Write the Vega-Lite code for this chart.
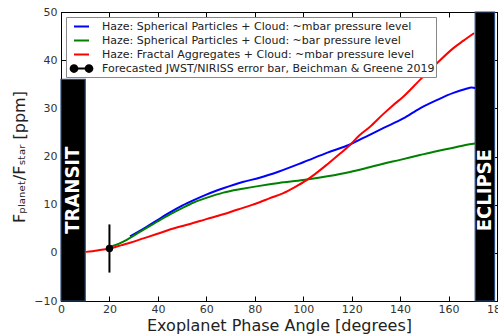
{
  "$schema": "https://vega.github.io/schema/vega-lite/v6.json",
  "width": 436,
  "height": 289,
  "autosize": "none",
  "padding": {"left": 61, "top": 12, "right": 1, "bottom": 34},
  "background": "white",
  "config": {
    "view": {"stroke": "black", "strokeWidth": 1},
    "axis": {
      "domainColor": "black",
      "tickColor": "black",
      "tickSize": -5,
      "labelFont": "DejaVu Sans",
      "labelFontSize": 11,
      "labelColor": "#333333",
      "grid": false,
      "labelFlush": false,
      "titleFont": "DejaVu Sans",
      "titleFontWeight": "normal",
      "titleFontSize": 16,
      "titleColor": "#222222"
    }
  },
  "datasets": {
    "bars": [
      {"name": "TRANSIT", "x1": 0, "x2": 10, "y1": -10, "y2": 36, "tx": 5, "ty": 13},
      {"name": "ECLIPSE", "x1": 171, "x2": 179, "y1": -10, "y2": 50, "tx": 175, "ty": 13}
    ],
    "lines": [
      {"series": "Haze: Spherical Particles + Cloud: ~mbar pressure level", "x": 28.5, "y": 3.4},
      {"series": "Haze: Spherical Particles + Cloud: ~mbar pressure level", "x": 32, "y": 4.4},
      {"series": "Haze: Spherical Particles + Cloud: ~mbar pressure level", "x": 35, "y": 5.3},
      {"series": "Haze: Spherical Particles + Cloud: ~mbar pressure level", "x": 39.5, "y": 6.7},
      {"series": "Haze: Spherical Particles + Cloud: ~mbar pressure level", "x": 45, "y": 8.4},
      {"series": "Haze: Spherical Particles + Cloud: ~mbar pressure level", "x": 50, "y": 9.8},
      {"series": "Haze: Spherical Particles + Cloud: ~mbar pressure level", "x": 55, "y": 11.0},
      {"series": "Haze: Spherical Particles + Cloud: ~mbar pressure level", "x": 60, "y": 12.1},
      {"series": "Haze: Spherical Particles + Cloud: ~mbar pressure level", "x": 67, "y": 13.4},
      {"series": "Haze: Spherical Particles + Cloud: ~mbar pressure level", "x": 75, "y": 14.7},
      {"series": "Haze: Spherical Particles + Cloud: ~mbar pressure level", "x": 82, "y": 15.6},
      {"series": "Haze: Spherical Particles + Cloud: ~mbar pressure level", "x": 90, "y": 16.9},
      {"series": "Haze: Spherical Particles + Cloud: ~mbar pressure level", "x": 100, "y": 18.8},
      {"series": "Haze: Spherical Particles + Cloud: ~mbar pressure level", "x": 110, "y": 20.8},
      {"series": "Haze: Spherical Particles + Cloud: ~mbar pressure level", "x": 119.3, "y": 22.5},
      {"series": "Haze: Spherical Particles + Cloud: ~mbar pressure level", "x": 127, "y": 24.4},
      {"series": "Haze: Spherical Particles + Cloud: ~mbar pressure level", "x": 133, "y": 25.9},
      {"series": "Haze: Spherical Particles + Cloud: ~mbar pressure level", "x": 141.3, "y": 27.9},
      {"series": "Haze: Spherical Particles + Cloud: ~mbar pressure level", "x": 148.2, "y": 30.0},
      {"series": "Haze: Spherical Particles + Cloud: ~mbar pressure level", "x": 155.1, "y": 31.7},
      {"series": "Haze: Spherical Particles + Cloud: ~mbar pressure level", "x": 162, "y": 33.2},
      {"series": "Haze: Spherical Particles + Cloud: ~mbar pressure level", "x": 167, "y": 34.0},
      {"series": "Haze: Spherical Particles + Cloud: ~mbar pressure level", "x": 169.5, "y": 34.3},
      {"series": "Haze: Spherical Particles + Cloud: ~mbar pressure level", "x": 171, "y": 34.2},
      {"series": "Haze: Spherical Particles + Cloud: ~bar pressure level", "x": 20, "y": 1.2},
      {"series": "Haze: Spherical Particles + Cloud: ~bar pressure level", "x": 24, "y": 1.9},
      {"series": "Haze: Spherical Particles + Cloud: ~bar pressure level", "x": 28.5, "y": 3.1},
      {"series": "Haze: Spherical Particles + Cloud: ~bar pressure level", "x": 32, "y": 4.2},
      {"series": "Haze: Spherical Particles + Cloud: ~bar pressure level", "x": 35, "y": 5.1},
      {"series": "Haze: Spherical Particles + Cloud: ~bar pressure level", "x": 39.5, "y": 6.4},
      {"series": "Haze: Spherical Particles + Cloud: ~bar pressure level", "x": 45, "y": 8.0},
      {"series": "Haze: Spherical Particles + Cloud: ~bar pressure level", "x": 50, "y": 9.3},
      {"series": "Haze: Spherical Particles + Cloud: ~bar pressure level", "x": 55, "y": 10.5},
      {"series": "Haze: Spherical Particles + Cloud: ~bar pressure level", "x": 60, "y": 11.4},
      {"series": "Haze: Spherical Particles + Cloud: ~bar pressure level", "x": 67, "y": 12.5},
      {"series": "Haze: Spherical Particles + Cloud: ~bar pressure level", "x": 75, "y": 13.3},
      {"series": "Haze: Spherical Particles + Cloud: ~bar pressure level", "x": 82, "y": 13.9},
      {"series": "Haze: Spherical Particles + Cloud: ~bar pressure level", "x": 90, "y": 14.5},
      {"series": "Haze: Spherical Particles + Cloud: ~bar pressure level", "x": 100, "y": 15.1},
      {"series": "Haze: Spherical Particles + Cloud: ~bar pressure level", "x": 110, "y": 15.9},
      {"series": "Haze: Spherical Particles + Cloud: ~bar pressure level", "x": 119.3, "y": 16.8},
      {"series": "Haze: Spherical Particles + Cloud: ~bar pressure level", "x": 126, "y": 17.6},
      {"series": "Haze: Spherical Particles + Cloud: ~bar pressure level", "x": 133, "y": 18.5},
      {"series": "Haze: Spherical Particles + Cloud: ~bar pressure level", "x": 140, "y": 19.3},
      {"series": "Haze: Spherical Particles + Cloud: ~bar pressure level", "x": 148.2, "y": 20.3},
      {"series": "Haze: Spherical Particles + Cloud: ~bar pressure level", "x": 155, "y": 21.1},
      {"series": "Haze: Spherical Particles + Cloud: ~bar pressure level", "x": 162, "y": 21.8},
      {"series": "Haze: Spherical Particles + Cloud: ~bar pressure level", "x": 167, "y": 22.4},
      {"series": "Haze: Spherical Particles + Cloud: ~bar pressure level", "x": 171, "y": 22.7},
      {"series": "Haze: Fractal Aggregates + Cloud: ~mbar pressure level", "x": 10.3, "y": 0.2},
      {"series": "Haze: Fractal Aggregates + Cloud: ~mbar pressure level", "x": 15, "y": 0.5},
      {"series": "Haze: Fractal Aggregates + Cloud: ~mbar pressure level", "x": 20, "y": 0.9},
      {"series": "Haze: Fractal Aggregates + Cloud: ~mbar pressure level", "x": 25, "y": 1.6},
      {"series": "Haze: Fractal Aggregates + Cloud: ~mbar pressure level", "x": 28.5, "y": 2.1},
      {"series": "Haze: Fractal Aggregates + Cloud: ~mbar pressure level", "x": 34, "y": 3.0},
      {"series": "Haze: Fractal Aggregates + Cloud: ~mbar pressure level", "x": 39.5, "y": 3.9},
      {"series": "Haze: Fractal Aggregates + Cloud: ~mbar pressure level", "x": 46, "y": 5.0},
      {"series": "Haze: Fractal Aggregates + Cloud: ~mbar pressure level", "x": 53.3, "y": 6.0},
      {"series": "Haze: Fractal Aggregates + Cloud: ~mbar pressure level", "x": 60, "y": 7.0},
      {"series": "Haze: Fractal Aggregates + Cloud: ~mbar pressure level", "x": 67, "y": 8.0},
      {"series": "Haze: Fractal Aggregates + Cloud: ~mbar pressure level", "x": 73, "y": 9.0},
      {"series": "Haze: Fractal Aggregates + Cloud: ~mbar pressure level", "x": 78, "y": 9.8},
      {"series": "Haze: Fractal Aggregates + Cloud: ~mbar pressure level", "x": 82, "y": 10.5},
      {"series": "Haze: Fractal Aggregates + Cloud: ~mbar pressure level", "x": 86, "y": 11.3},
      {"series": "Haze: Fractal Aggregates + Cloud: ~mbar pressure level", "x": 91.8, "y": 12.4},
      {"series": "Haze: Fractal Aggregates + Cloud: ~mbar pressure level", "x": 96, "y": 13.5},
      {"series": "Haze: Fractal Aggregates + Cloud: ~mbar pressure level", "x": 101.4, "y": 15.1},
      {"series": "Haze: Fractal Aggregates + Cloud: ~mbar pressure level", "x": 105, "y": 16.4},
      {"series": "Haze: Fractal Aggregates + Cloud: ~mbar pressure level", "x": 110, "y": 18.4},
      {"series": "Haze: Fractal Aggregates + Cloud: ~mbar pressure level", "x": 115, "y": 20.5},
      {"series": "Haze: Fractal Aggregates + Cloud: ~mbar pressure level", "x": 119.3, "y": 22.4},
      {"series": "Haze: Fractal Aggregates + Cloud: ~mbar pressure level", "x": 123, "y": 24.3},
      {"series": "Haze: Fractal Aggregates + Cloud: ~mbar pressure level", "x": 127.6, "y": 26.2},
      {"series": "Haze: Fractal Aggregates + Cloud: ~mbar pressure level", "x": 133, "y": 28.8},
      {"series": "Haze: Fractal Aggregates + Cloud: ~mbar pressure level", "x": 137, "y": 30.6},
      {"series": "Haze: Fractal Aggregates + Cloud: ~mbar pressure level", "x": 141.3, "y": 32.4},
      {"series": "Haze: Fractal Aggregates + Cloud: ~mbar pressure level", "x": 148.2, "y": 35.9},
      {"series": "Haze: Fractal Aggregates + Cloud: ~mbar pressure level", "x": 155.1, "y": 39.3},
      {"series": "Haze: Fractal Aggregates + Cloud: ~mbar pressure level", "x": 162, "y": 42.5},
      {"series": "Haze: Fractal Aggregates + Cloud: ~mbar pressure level", "x": 166, "y": 44.0},
      {"series": "Haze: Fractal Aggregates + Cloud: ~mbar pressure level", "x": 170.5, "y": 45.6}
    ],
    "err": [
      {"x": 20, "y": 0.9, "lo": -4.1, "hi": 5.9}
    ]
  },
  "layer": [
    {
      "data": {"name": "bars"},
      "mark": {"type": "rect", "fill": "black", "stroke": "#2a4b7c", "strokeWidth": 1.2},
      "encoding": {
        "x": {"field": "x1", "type": "quantitative", "scale": {"domain": [0, 180], "nice": false, "zero": false},
              "axis": {"orient": "bottom", "values": [0, 20, 40, 60, 80, 100, 120, 140, 160, 180], "labelPadding": 7, "title": "Exoplanet Phase Angle [degrees]", "titlePadding": 3}},
        "x2": {"field": "x2"},
        "y": {"field": "y1", "type": "quantitative", "scale": {"domain": [-10, 50], "nice": false, "zero": false},
              "axis": {"orient": "left", "values": [-10, 0, 10, 20, 30, 40, 50], "labelPadding": 9, "title": "Fₚₗₐₙₑₜ/Fₛₜₐᵣ [ppm]", "titlePadding": 6}},
        "y2": {"field": "y2"}
      }
    },
    {
      "data": {"name": "bars"},
      "mark": {"type": "text", "angle": 270, "color": "white", "fontWeight": "bold", "fontSize": 20, "font": "DejaVu Sans Condensed, Liberation Sans Narrow, DejaVu Sans", "align": "center", "baseline": "middle"},
      "encoding": {
        "x": {"field": "tx", "type": "quantitative", "axis": null},
        "y": {"field": "ty", "type": "quantitative", "axis": null},
        "text": {"field": "name"}
      }
    },
    {
      "data": {"name": "lines"},
      "mark": {"type": "line", "strokeWidth": 2, "interpolate": "monotone"},
      "encoding": {
        "x": {"field": "x", "type": "quantitative",
              "axis": {"orient": "top", "values": [0, 20, 40, 60, 80, 100, 120, 140, 160, 180], "labels": false, "title": null}},
        "y": {"field": "y", "type": "quantitative",
              "axis": {"orient": "right", "values": [-10, 0, 10, 20, 30, 40, 50], "labels": false, "title": null}},
        "color": {
          "field": "series", "type": "nominal",
          "scale": {
            "domain": [
              "Haze: Spherical Particles + Cloud: ~mbar pressure level",
              "Haze: Spherical Particles + Cloud: ~bar pressure level",
              "Haze: Fractal Aggregates + Cloud: ~mbar pressure level",
              "Forecasted JWST/NIRISS error bar, Beichman & Greene 2019"
            ],
            "range": ["#0000ff", "#008000", "#ff0000", "#000000"]
          },
          "legend": {
            "title": null,
            "orient": "top-left",
            "offset": 5,
            "padding": 1,
            "strokeColor": "#888888",
            "fillColor": "white",
            "cornerRadius": 0,
            "symbolType": "stroke",
            "symbolSize": 225,
            "symbolStrokeWidth": 2,
            "symbolOffset": 6,
            "labelOffset": 12,
            "labelFont": "DejaVu Sans",
            "labelFontSize": 11,
            "labelColor": "#222222",
            "labelLimit": 400,
            "rowPadding": 0,
            "encode": {
              "symbols": {
                "update": {
                  "shape": [
                    {"test": "datum.value === 'Forecasted JWST/NIRISS error bar, Beichman & Greene 2019'", "value": "M-1,0L1,0M-1.45,0A0.45,0.45,0,1,1,-0.55,0A0.45,0.45,0,1,1,-1.45,0ZM0.55,0A0.45,0.45,0,1,1,1.45,0A0.45,0.45,0,1,1,0.55,0Z"},
                    {"value": "stroke"}
                  ],
                  "fill": [
                    {"test": "datum.value === 'Forecasted JWST/NIRISS error bar, Beichman & Greene 2019'", "value": "black"},
                    {"value": "transparent"}
                  ]
                }
              }
            }
          }
        }
      }
    },
    {
      "data": {"name": "err"},
      "mark": {"type": "rule", "color": "black", "strokeWidth": 2},
      "encoding": {
        "x": {"field": "x", "type": "quantitative", "axis": null},
        "y": {"field": "lo", "type": "quantitative", "axis": null},
        "y2": {"field": "hi"}
      }
    },
    {
      "data": {"name": "err"},
      "mark": {"type": "point", "filled": true, "color": "black", "size": 55, "opacity": 1},
      "encoding": {
        "x": {"field": "x", "type": "quantitative", "axis": null},
        "y": {"field": "y", "type": "quantitative", "axis": null}
      }
    }
  ],
  "resolve": {"axis": {"x": "independent", "y": "independent"}}
}
